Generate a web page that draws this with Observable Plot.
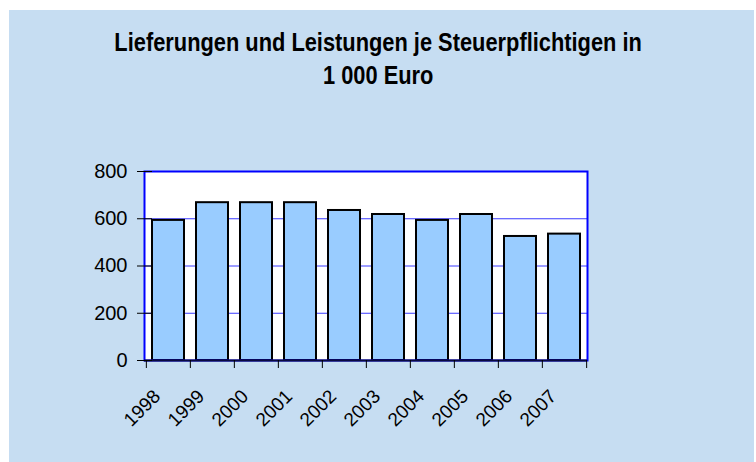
<!DOCTYPE html>
<html>
<head>
<meta charset="utf-8">
<script src="https://cdn.jsdelivr.net/npm/d3@7"></script>
<script src="https://cdn.jsdelivr.net/npm/@observablehq/plot@0.6"></script>
<style>
  html, body { margin: 0; padding: 0; background: #ffffff; }
  #wrap { position: relative; width: 756px; height: 462px; overflow: hidden; }
  #panel { position: absolute; left: 9px; top: 10px; width: 745px; height: 452px; background: #c6ddf2; }
  #title { position: relative; height: 110px; box-sizing: border-box; padding-top: 26px;
           text-align: center; font-family: 'Liberation Sans', Arial, sans-serif; font-weight: bold;
           font-size: 25px; line-height: 33px; color: #000; }
  #title span { display: inline-block; transform: scaleX(0.873); transform-origin: 50% 50%; white-space: nowrap; }
  #chart { position: relative; }
  #chart svg { display: block; background: transparent; }
</style>
</head>
<body>
<div id="wrap">
  <div id="panel"></div>
  <div id="title"><span>Lieferungen und Leistungen je Steuerpflichtigen in</span><br><span>1 000 Euro</span></div>
  <div id="chart"></div>
</div>
<script>
const years = ["1998", "1999", "2000", "2001", "2002", "2003", "2004", "2005", "2006", "2007"];
const values = [593, 668, 668, 668, 635, 618, 593, 618, 525, 535];
const yTicks = [0, 200, 400, 600, 800];
const gridTicks = [200, 400, 600];

const data = years.map((year, i) => ({year, value: values[i]}));
const font = "'Liberation Sans', Arial, sans-serif";

const W = 756, H = 352;
const mL = 144, mR = 169, mT = 61, mB = 102;
const frameW = W - mL - mR;
const frameH = H - mT - mB;
const half = frameW / years.length / 2;

const chart = Plot.plot({
  width: W,
  height: H,
  marginLeft: mL,
  marginRight: mR,
  marginTop: mT,
  marginBottom: mB,
  style: {background: "transparent", fontFamily: font},
  x: {domain: years, padding: 0, axis: null},
  y: {domain: [0, 800], axis: null},
  marks: [
    Plot.frame({fill: "white"}),
    Plot.ruleY(gridTicks, {stroke: "#3a3aff", strokeWidth: 1}),
    Plot.barY(data, {x: "year", y: "value", fill: "#99ccff", stroke: "#000", strokeWidth: 2, insetLeft: 6, insetRight: 6}),
    Plot.frame({stroke: "#0000ff", strokeWidth: 2}),
    Plot.ruleY([0], {stroke: "#0a0a40", strokeWidth: 2}),
    Plot.ruleY(yTicks, {stroke: "#000", strokeWidth: 1, insetLeft: -7, insetRight: frameW - 8}),
    Plot.text(yTicks, {y: d => d, frameAnchor: "left", dx: -17, textAnchor: "end", fontSize: 20, fill: "#000"}),
    Plot.ruleX(years, {x: d => d, dx: -half, stroke: "#000", strokeWidth: 1, insetTop: frameH, insetBottom: -8}),
    Plot.ruleX(years.slice(-1), {x: d => d, dx: half, stroke: "#000", strokeWidth: 1, insetTop: frameH, insetBottom: -8}),
    Plot.text(data, {x: "year", text: "year", frameAnchor: "bottom", dx: -7, dy: 37, rotate: -45, textAnchor: "end", lineAnchor: "bottom", fontSize: 19, fill: "#000"})
  ]
});
document.getElementById("chart").appendChild(chart);
</script>
</body>
</html>
